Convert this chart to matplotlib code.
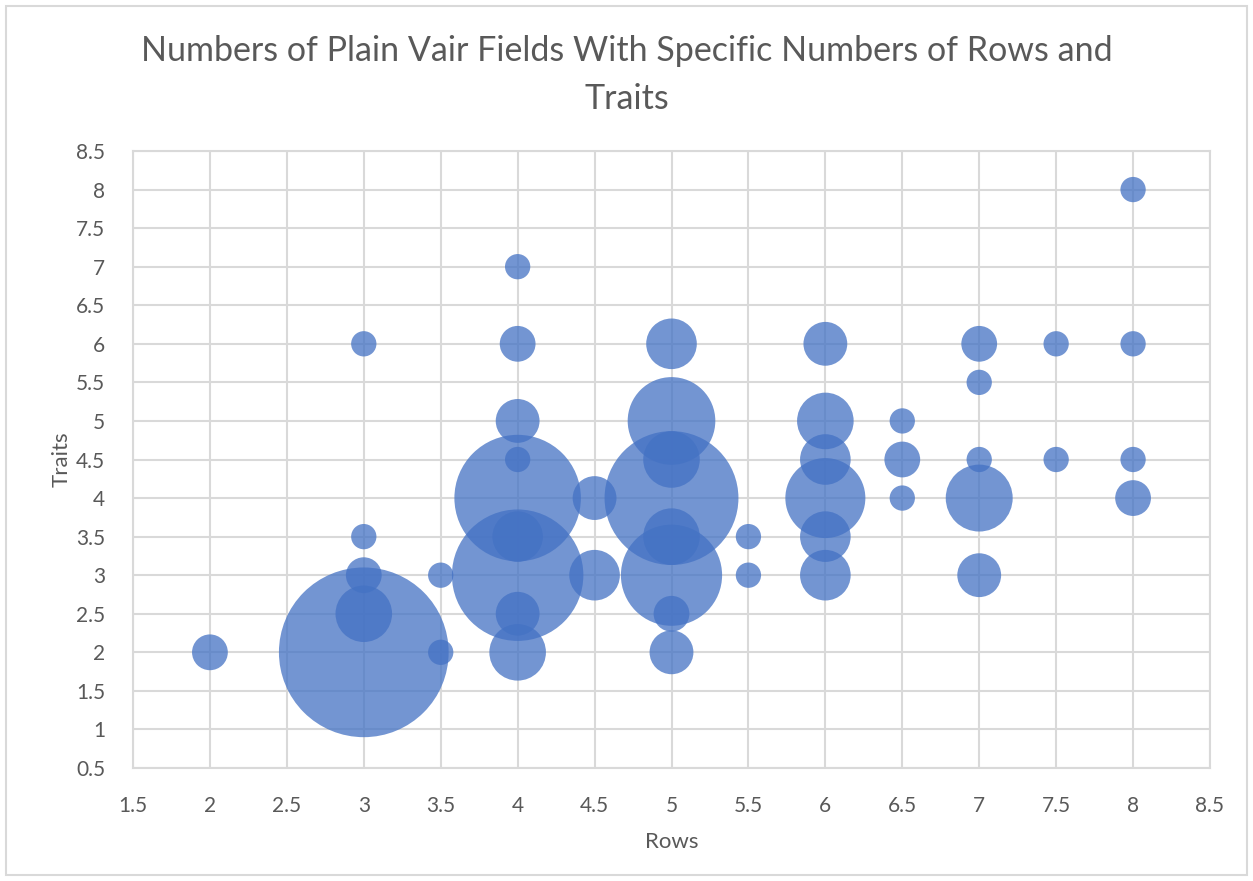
import matplotlib
matplotlib.use("Agg")
import matplotlib.pyplot as plt
import matplotlib.patches as patches
from matplotlib.ticker import MultipleLocator, FuncFormatter

# --- data: one bubble per (rows, traits) pair, size = number of fields ---
rows = [2, 3, 3, 3, 3, 3, 3.5, 3.5,
        4, 4, 4, 4, 4, 4, 4, 4, 4,
        4.5, 4.5,
        5, 5, 5, 5, 5, 5, 5, 5,
        5.5, 5.5,
        6, 6, 6, 6, 6, 6,
        6.5, 6.5, 6.5,
        7, 7, 7, 7, 7,
        7.5, 7.5,
        8, 8, 8, 8]
traits = [2, 2, 2.5, 3, 3.5, 6, 2, 3,
          2, 2.5, 3, 3.5, 4, 4.5, 5, 6, 7,
          3, 4,
          2, 2.5, 3, 3.5, 4, 4.5, 5, 6,
          3, 3.5,
          3, 3.5, 4, 4.5, 5, 6,
          4, 4.5, 5,
          3, 4, 4.5, 5.5, 6,
          4.5, 6,
          4, 4.5, 6, 8]
fields = [2, 45, 5, 2, 1, 1, 1, 1,
          5, 3, 27, 4, 25, 1, 3, 2, 1,
          4, 3,
          3, 2, 16, 5, 28, 5, 12, 4,
          1, 1,
          4, 4, 10, 4, 5, 3,
          1, 2, 1,
          3, 7, 1, 1, 2,
          1, 1,
          2, 1, 1, 1]

BUBBLE = "#4472c4"
TEXT = "#595959"
GRID = "#d9d9d9"
DPI = 100
UNIT_DIAM_PX = 25.3  # diameter of a size-1 bubble

plt.rcParams["font.family"] = ["Lato", "DejaVu Sans"]

fig = plt.figure(figsize=(12.53, 8.81), dpi=DPI, facecolor="white")
ax = fig.add_axes([133 / 1253, 1 - 768 / 881, (1210 - 133) / 1253, (768 - 151) / 881])

sizes = [(UNIT_DIAM_PX * 72 / DPI) ** 2 * v for v in fields]
ax.scatter(rows, traits, s=sizes, color=BUBBLE, alpha=0.75, linewidths=0, zorder=3)

ax.set_xlim(1.5, 8.5)
ax.set_ylim(0.5, 8.5)
ax.xaxis.set_major_locator(MultipleLocator(0.5))
ax.yaxis.set_major_locator(MultipleLocator(0.5))
fmt = FuncFormatter(lambda v, p: f"{v:g}")
ax.xaxis.set_major_formatter(fmt)
ax.yaxis.set_major_formatter(fmt)
ax.tick_params(length=0, labelsize=15, colors=TEXT)
ax.tick_params(axis="x", pad=20)
ax.tick_params(axis="y", pad=20)
ax.grid(True, color=GRID, linewidth=1.5)
ax.set_axisbelow(True)
for side in ["top", "right", "left", "bottom"]:
    ax.spines[side].set_color(GRID)
    ax.spines[side].set_linewidth(1.5)

ax.set_xlabel("Rows", fontsize=16, color=TEXT, labelpad=12)
ax.set_ylabel("Traits", fontsize=16, color=TEXT, labelpad=3)

fig.text(0.5, 1 - 75 / 881, "Numbers of Plain Vair Fields With Specific Numbers of Rows and\nTraits",
         ha="center", va="center", fontsize=24.5, color=TEXT, linespacing=1.62)

fig.patches.append(patches.Rectangle((6 / 1253, 6 / 881), 1 - 12 / 1253, 1 - 12 / 881,
                                     transform=fig.transFigure, fill=False,
                                     edgecolor=GRID, linewidth=1.5))

fig.savefig("out.png", dpi=DPI, facecolor="white")
